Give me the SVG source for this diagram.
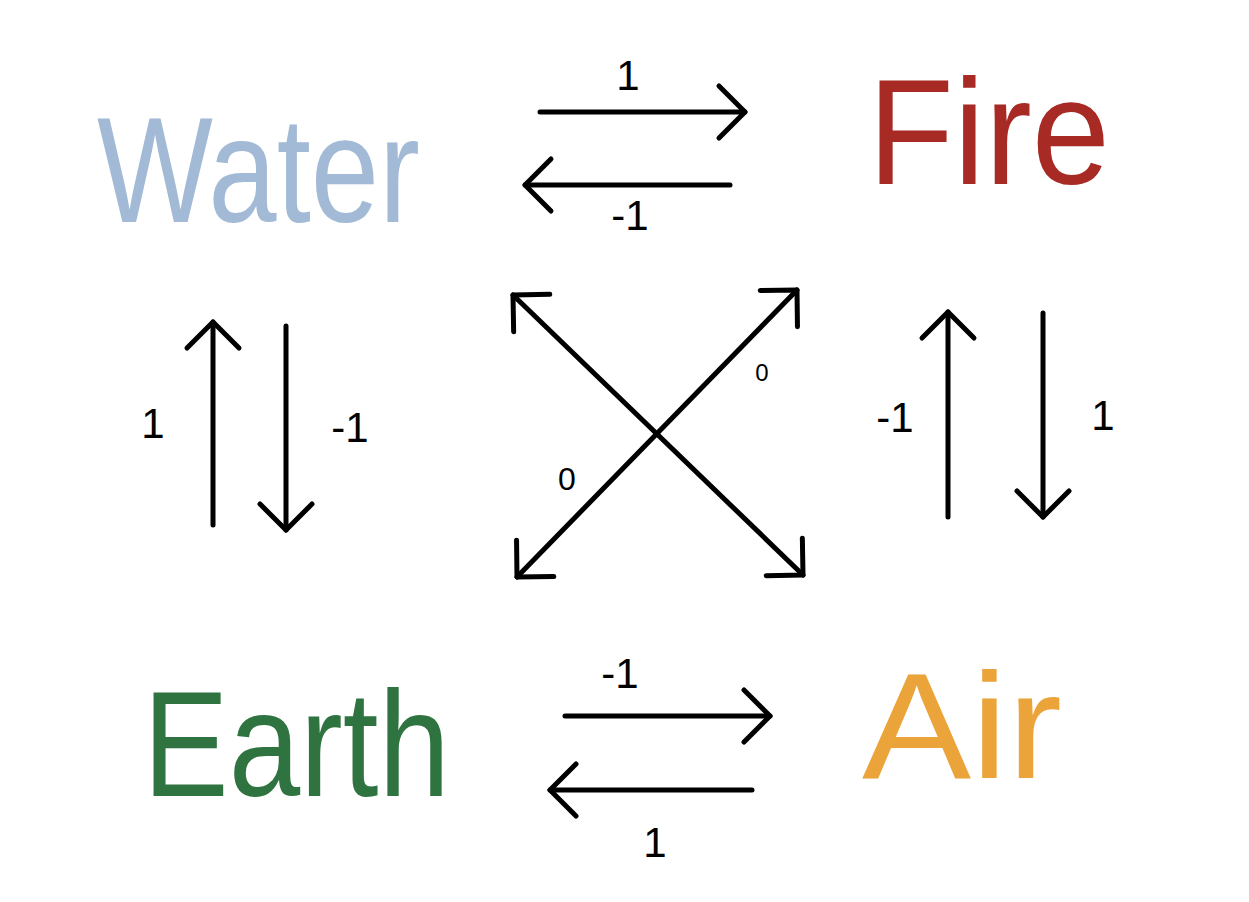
<svg xmlns="http://www.w3.org/2000/svg" width="1249" height="902" viewBox="0 0 1249 902">
<defs>
<style>
.node text{font-family:"Liberation Sans",Arial,sans-serif;font-size:150px;}
.lbl{font-family:"Liberation Sans",Arial,sans-serif;font-size:42px;fill:#000;text-anchor:middle;}
.ar{fill:none;stroke:#000;stroke-width:5;stroke-linecap:round;}
</style>
<marker id="head" markerUnits="userSpaceOnUse" viewBox="-30 -30 36 60" markerWidth="36" markerHeight="60" refX="0" refY="0" orient="auto-start-reverse">
<path d="M-26,-26 L0,0 L-26,26" fill="none" stroke="#000" stroke-width="5" stroke-linecap="round" stroke-linejoin="round"/>
</marker>
</defs>
<rect width="1249" height="902" fill="#fff"/>
<g id="water" class="node"><text x="97" y="222" fill="#a3bad6" textLength="323" lengthAdjust="spacingAndGlyphs">Water</text></g>
<g id="fire" class="node"><text x="868" y="184" fill="#a82a24" textLength="242" lengthAdjust="spacingAndGlyphs">Fire</text></g>
<g id="earth" class="node"><text x="143" y="796" fill="#2f7440" textLength="307" lengthAdjust="spacingAndGlyphs">Earth</text></g>
<g id="air" class="node"><text x="862" y="778" fill="#eba43a" textLength="200" lengthAdjust="spacingAndGlyphs">Air</text></g>
<g id="connectors">
<line class="ar" x1="540" y1="112" x2="745" y2="112" marker-end="url(#head)"/>
<line class="ar" x1="730" y1="185" x2="525" y2="185" marker-end="url(#head)"/>
<line class="ar" x1="213" y1="525" x2="213" y2="322" marker-end="url(#head)"/>
<line class="ar" x1="286" y1="326" x2="286" y2="530" marker-end="url(#head)"/>
<line class="ar" x1="948" y1="517" x2="948" y2="312" marker-end="url(#head)"/>
<line class="ar" x1="1043" y1="313" x2="1043" y2="517" marker-end="url(#head)"/>
<line class="ar" x1="565" y1="716" x2="770" y2="716" marker-end="url(#head)"/>
<line class="ar" x1="752" y1="790" x2="550" y2="790" marker-end="url(#head)"/>
<line class="ar" x1="513" y1="295" x2="803" y2="575" marker-start="url(#head)" marker-end="url(#head)"/>
<line class="ar" x1="797" y1="290" x2="517" y2="577" marker-start="url(#head)" marker-end="url(#head)"/>
<text class="lbl" x="628" y="90">1</text>
<text class="lbl" x="630" y="230">-1</text>
<text class="lbl" x="153" y="438">1</text>
<text class="lbl" x="350" y="442">-1</text>
<text class="lbl" x="895" y="432">-1</text>
<text class="lbl" x="1103" y="430">1</text>
<text class="lbl" x="620" y="688">-1</text>
<text class="lbl" x="655" y="857">1</text>
<text class="lbl" x="762" y="381" style="font-size:24px">0</text>
<text class="lbl" x="567" y="490" style="font-size:32px">0</text>
</g>
</svg>
